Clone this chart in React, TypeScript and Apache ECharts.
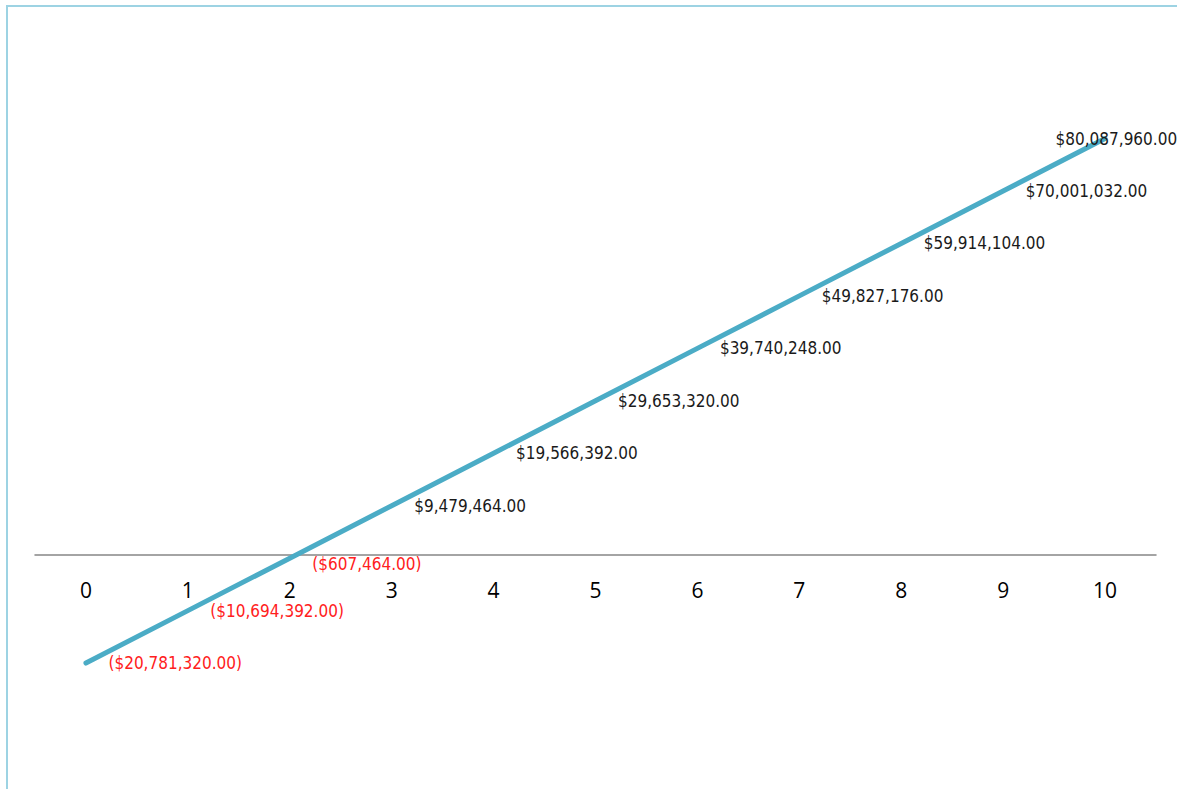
import React, { useEffect, useRef } from "react";
import * as echarts from "echarts";

// Periods along the horizontal axis
const periods: string[] = ["0", "1", "2", "3", "4", "5", "6", "7", "8", "9", "10"];

// Cumulative cash position per period
const cumulative: number[] = [
  -20781320, -10694392, -607464, 9479464, 19566392, 29653320, 39740248,
  49827176, 59914104, 70001032, 80087960,
];

const LABEL_FONT = "'DejaVu Sans Condensed', 'Liberation Sans', sans-serif";

function formatMoney(v: number): string {
  const abs = Math.abs(v);
  const s = "$" + abs.toLocaleString("en-US", { minimumFractionDigits: 2, maximumFractionDigits: 2 });
  return v < 0 ? "(" + s + ")" : s;
}

export default function App() {
  const ref = useRef<HTMLDivElement>(null);

  useEffect(() => {
    if (!ref.current) return;
    const chart = echarts.init(ref.current, null, { renderer: "svg" });

    const data = cumulative.map((v, i) => {
      const label: any = { color: v < 0 ? "#FF2020" : "#1a1a1a" };
      // keep the label just under the axis line
      if (i === 2) label.offset = [0, 6];
      // pull the last label back inside the frame
      if (i === cumulative.length - 1) label.offset = [-72, 0];
      return { value: v, label };
    });

    chart.setOption({
      animation: false,
      backgroundColor: "#ffffff",
      // The grid's lower edge sits on the zero line; negative values extend below it.
      grid: {
        left: 35,
        right: 21,
        top: 35,
        bottom: 234,
        containLabel: false,
        outerBoundsMode: "none",
      },
      xAxis: {
        type: "category",
        data: periods,
        boundaryGap: true,
        axisLine: { show: true, lineStyle: { color: "#868686", width: 1.5 } },
        axisTick: { show: false },
        axisLabel: {
          color: "#000000",
          fontFamily: "'Open Sans', 'Noto Sans', sans-serif",
          fontSize: 21,
          margin: 24,
        },
        splitLine: { show: false },
      },
      yAxis: {
        type: "value",
        min: 0,
        max: 100000000,
        show: false,
        splitLine: { show: false },
      },
      graphic: [
        {
          type: "rect",
          silent: true,
          z: -1,
          shape: { x: 7, y: 6, width: 1400, height: 1000 },
          style: { fill: "none", stroke: "#9DD3E3", lineWidth: 2 },
        },
      ],
      series: [
        {
          type: "line",
          data,
          clip: false,
          showSymbol: true,
          symbol: "circle",
          symbolSize: 1,
          lineStyle: { color: "#4BACC6", width: 5, cap: "round" },
          itemStyle: { color: "#4BACC6" },
          label: {
            show: true,
            position: "right",
            distance: 22,
            fontFamily: LABEL_FONT,
            fontSize: 17,
            formatter: (p: any) => formatMoney(p.value as number),
          },
        },
      ],
    });

    return () => chart.dispose();
  }, []);

  return (
    <div
      ref={ref}
      style={{ position: "absolute", left: 0, top: 0, width: 1177, height: 789 }}
    />
  );
}
